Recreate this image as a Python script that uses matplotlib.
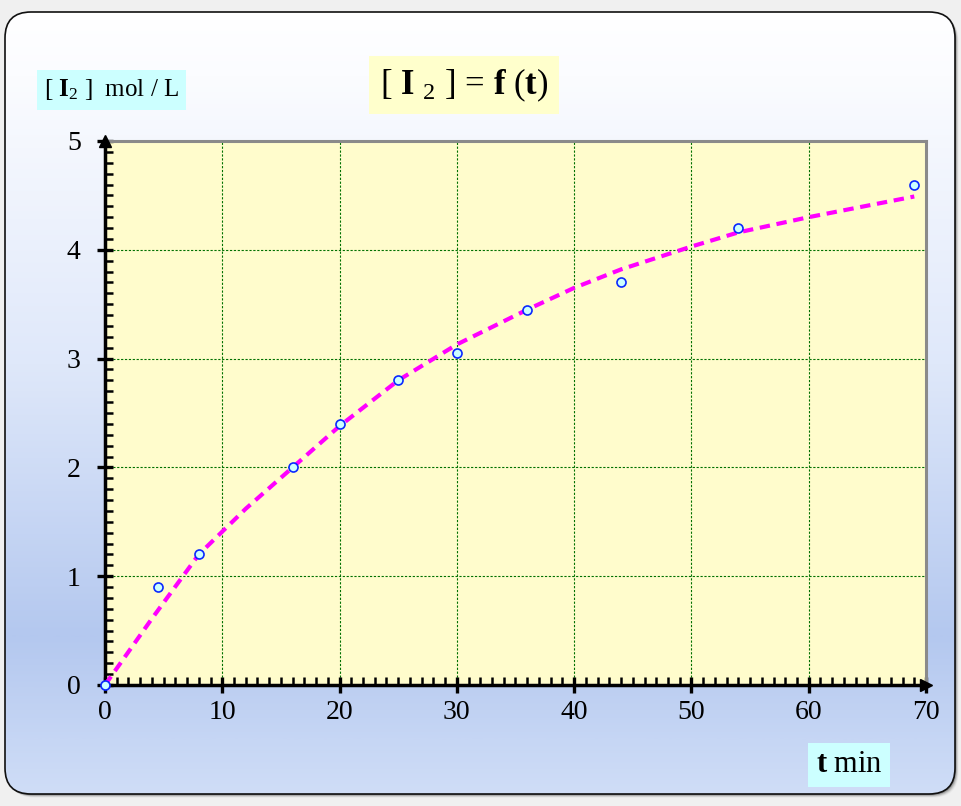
import numpy as np
import matplotlib
matplotlib.use("Agg")
import matplotlib.pyplot as plt
from matplotlib.patches import FancyBboxPatch
from matplotlib.colors import LinearSegmentedColormap

# ---- data ----
t_meas = [0, 4.5, 8, 16, 20, 25, 30, 36, 44, 54, 69]
i2_meas = [0, 0.9, 1.2, 2.0, 2.4, 2.8, 3.05, 3.45, 3.7, 4.2, 4.6]
t_curve = [0, 4, 8, 12, 16, 20, 25, 30, 36, 40, 44, 50, 54, 60, 69]
i2_curve = [0, 0.61, 1.2, 1.62, 2.0, 2.38, 2.8, 3.13, 3.45, 3.65, 3.82, 4.03, 4.16, 4.3, 4.49]
x_ticks = [0, 10, 20, 30, 40, 50, 60, 70]
y_ticks = [0, 1, 2, 3, 4, 5]

plt.rcParams['font.family'] = ['Liberation Serif', 'DejaVu Serif']
plt.rcParams['mathtext.fontset'] = 'custom'
plt.rcParams['mathtext.rm'] = 'Liberation Serif'
plt.rcParams['mathtext.it'] = 'Liberation Serif:italic'
plt.rcParams['mathtext.bf'] = 'Liberation Serif:bold'

W, H = 962, 806
fig = plt.figure(figsize=(W / 100, H / 100), dpi=100)
fig.patch.set_facecolor('#f0f0f0')

# ---- background panel ----
bg = fig.add_axes([0, 0, 1, 1])
bg.set_xlim(0, W)
bg.set_ylim(H, 0)
bg.axis('off')

# shadow
for k, a in zip(range(6, 0, -1), [0.05, 0.08, 0.12, 0.18, 0.25, 0.35]):
    sh = FancyBboxPatch((5 + k * 0.6, 12 + k * 0.6), 950, 782,
                        boxstyle="round,pad=0,rounding_size=26",
                        facecolor='#404040', edgecolor='none', alpha=a, zorder=1)
    bg.add_patch(sh)

panel = FancyBboxPatch((5, 12), 950, 782, boxstyle="round,pad=0,rounding_size=26",
                       facecolor='none', edgecolor='#101010', linewidth=1.2, zorder=3)
bg.add_patch(panel)
cmap = LinearSegmentedColormap.from_list(
    'g', [(0.0, '#ffffff'), (0.08, '#fbfcff'), (0.45, '#dfe8fa'),
          (0.8, '#b4c8ef'), (1.0, '#cfddf7')])
grad = np.linspace(0, 1, 400).reshape(-1, 1)
im = bg.imshow(grad, cmap=cmap, extent=(5, 955, 794, 12), aspect='auto', zorder=2)
clip = FancyBboxPatch((5, 12), 950, 782, boxstyle="round,pad=0,rounding_size=26",
                      facecolor='none', edgecolor='none', transform=bg.transData)
im.set_clip_path(clip)

# ---- main axes ----
x0, x1, y0, y1 = 105, 926, 685, 141
ax = fig.add_axes([x0 / W, 1 - y0 / H, (x1 - x0) / W, (y0 - y1) / H])
ax.set_facecolor('#fffccc')
ax.set_xlim(0, 70)
ax.set_ylim(0, 5)
ax.set_xticks(x_ticks)
ax.set_yticks(y_ticks)
ax.set_xticks(np.arange(0, 71, 1), minor=True)
ax.set_yticks(np.arange(0, 5.01, 0.1), minor=True)
ax.tick_params(which='major', direction='inout', length=11, width=2.4, labelsize=20, pad=5)
ax.tick_params(which='minor', direction='in', length=6, width=1.8)
ax.tick_params(axis='y', pad=12)
ax.grid(True, which='major', color='#007000', linestyle=(0, (2, 1.5)), linewidth=0.8)
ax.set_axisbelow(True)
for s in ['left', 'bottom']:
    ax.spines[s].set_linewidth(2.5)
    ax.spines[s].set_color('black')
for s in ['top', 'right']:
    ax.spines[s].set_linewidth(2.2)
    ax.spines[s].set_color('#8a8a8a')

ax.plot(t_curve, i2_curve, color='#ff00ff', linewidth=3, dashes=(2.5, 1.6), zorder=3)
ax.plot(t_meas, i2_meas, linestyle='none', marker='o', markersize=6.5,
        markerfacecolor='#ccffff', markeredgecolor='#0a28ff', markeredgewidth=1.2,
        zorder=5, clip_on=False)
# arrows
ax.plot([0], [5], marker='^', color='black', markersize=8, clip_on=False, zorder=6)
ax.plot([70], [0], marker='>', color='black', markersize=8, clip_on=False, zorder=6)

# ---- labels ----
fig.text(44 / W, 1 - 90 / H, r'[ $\mathbf{I}_{2}$ ]  mol / L', fontsize=18,
         va='center', ha='left',
         bbox=dict(boxstyle='square,pad=0.3', facecolor='#ccffff', edgecolor='none'))
fig.text(464 / W, 1 - 85 / H, r'[ $\mathbf{I}$ $_{2}$ ] = $\mathbf{f}$ ($\mathbf{t}$)',
         fontsize=25, va='center', ha='center',
         bbox=dict(boxstyle='square,pad=0.3', facecolor='#ffffcc', edgecolor='none'))
fig.text(849 / W, 1 - 765 / H, r'$\mathbf{t}$ min', fontsize=22,
         va='center', ha='center',
         bbox=dict(boxstyle='square,pad=0.25', facecolor='#ccffff', edgecolor='none'))

fig.savefig('out.png', dpi=100, facecolor=fig.get_facecolor())
